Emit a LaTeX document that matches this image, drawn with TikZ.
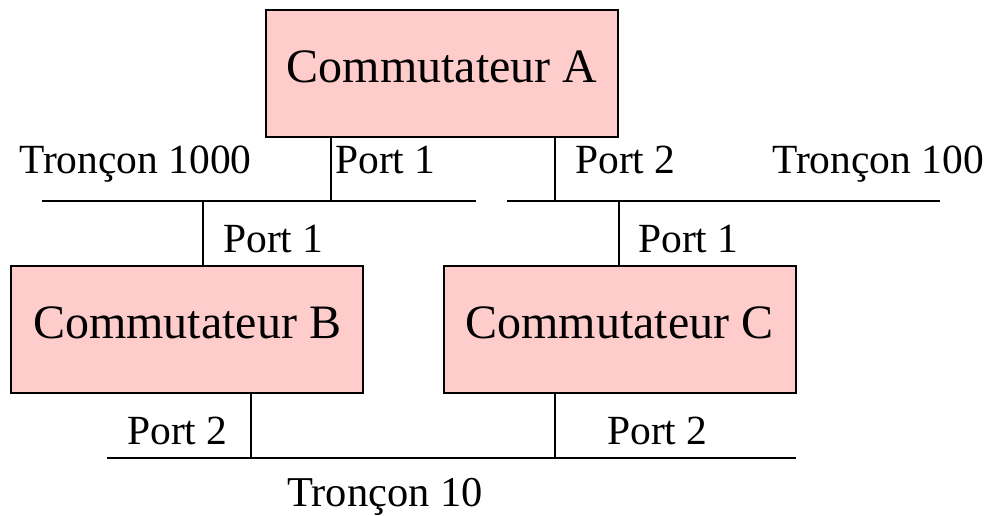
\documentclass[tikz,border=0pt]{standalone}
\usepackage{fontspec}
\setmainfont{Liberation Serif}
\definecolor{boxpink}{HTML}{FFCCCC}
\begin{document}
\begin{tikzpicture}[x=1pt,y=-1pt,
  switchbox/.style={draw=black,fill=boxpink,line width=2pt,minimum width=352pt,minimum height=127pt,inner sep=0pt,
    font=\fontsize{48}{58}\selectfont,text height=17pt,text depth=0pt},
  lbl/.style={anchor=base west,inner sep=0pt,font=\fontsize{41.5}{50}\selectfont},
  wire/.style={line width=2pt,line cap=butt}]
\useasboundingbox (0,0) rectangle (987,515);
\node[switchbox] (A) at (442,73.5) {Commutateur A};
\node[switchbox] (B) at (187,329.5) {Commutateur B};
\node[switchbox] (C) at (619.5,329.5) {Commutateur C};
% bus coordinates
\coordinate (L1) at (42,201);
\coordinate (L2) at (476,201);
\coordinate (R1) at (507,201);
\coordinate (R2) at (940,201);
\coordinate (D1) at (107,458);
\coordinate (D2) at (796,458);
\coordinate (a1) at (331,201);
\coordinate (a2) at (555,201);
\coordinate (b1) at (203,201);
\coordinate (c1) at (619,201);
\coordinate (b2) at (251,458);
\coordinate (c2) at (555,458);
% buses
\draw[wire] (L1) -- (L2);
\draw[wire] (R1) -- (R2);
\draw[wire] (D1) -- (D2);
% drops
\draw[wire] (A.south -| a1) -- (a1);
\draw[wire] (A.south -| a2) -- (a2);
\draw[wire] (b1) -- (B.north -| b1);
\draw[wire] (c1) -- (C.north -| c1);
\draw[wire] (B.south -| b2) -- (b2);
\draw[wire] (C.south -| c2) -- (c2);
% labels
\node[lbl] (t1000) at (19,173) {Tronçon 1000};
\node[lbl] (pa1) at (335,173) {Port 1};
\node[lbl] (pa2) at (575,173) {Port 2};
\node[lbl] (t100) at (772,173) {Tronçon 100};
\node[lbl] (pb1) at (223,252) {Port 1};
\node[lbl] (pc1) at (638,252) {Port 1};
\node[lbl] (pb2) at (127,444) {Port 2};
\node[lbl] (pc2) at (607,444) {Port 2};
\node[lbl,font=\fontsize{42.5}{50}\selectfont] (t10) at (287,506) {Tronçon 10};
\end{tikzpicture}
\end{document}
